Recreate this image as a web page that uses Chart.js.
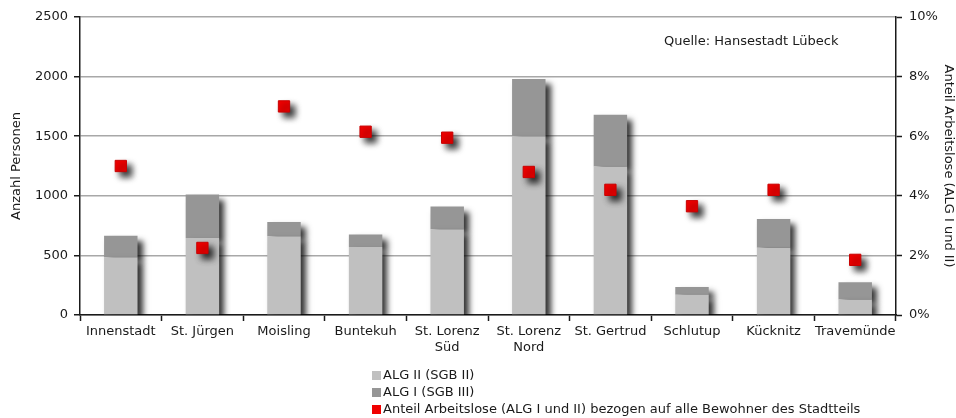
<!DOCTYPE html>
<html lang="de">
<head>
<meta charset="utf-8">
<title>Arbeitslose nach Stadtteilen – Lübeck</title>
<script src="https://cdn.jsdelivr.net/npm/chart.js@4"></script>
<style>
  body { margin: 0; background: #fff; }
  #wrap { position: relative; width: 956px; height: 418px; }
  #legend {
    position: absolute; left: 372px; top: 366px;
    font: 13px 'DejaVu Sans', sans-serif; color: #1a1a1a;
  }
  #legend div { height: 17px; line-height: 17px; white-space: nowrap; }
  #legend span.box {
    display: inline-block; width: 9px; height: 9px; margin-right: 2px; vertical-align: -0.5px;
  }
</style>
</head>
<body>
<div id="wrap">
  <canvas id="chart" width="956" height="418"></canvas>
  <div id="legend"></div>
</div>
<script>
// Stadtteile (x axis)
const categories = [
  'Innenstadt', 'St. Jürgen', 'Moisling', 'Buntekuh', ['St. Lorenz', 'Süd'],
  ['St. Lorenz', 'Nord'], 'St. Gertrud', 'Schlutup', 'Kücknitz', 'Travemünde'
];

// Anzahl Personen
const alg2 = [485, 645, 660, 570, 720, 1500, 1245, 170, 565, 130];
const alg1 = [180, 365, 120, 105, 190, 480, 435, 65, 240, 145];

// Anteil Arbeitslose in %
const anteil = [5.0, 2.25, 7.0, 6.15, 5.95, 4.8, 4.2, 3.65, 4.2, 1.85];

const FONT = { family: "'DejaVu Sans', sans-serif", size: 13 };
const INK = '#1a1a1a';

// soft drop shadow behind bars and markers
const shadowPlugin = {
  id: 'shadow',
  beforeDatasetDraw(chart) {
    const ctx = chart.ctx;
    ctx.save();
    ctx.shadowColor = 'rgba(0,0,0,0.8)';
    ctx.shadowBlur = 6;
    ctx.shadowOffsetX = 5;
    ctx.shadowOffsetY = 5;
  },
  afterDatasetDraw(chart) {
    chart.ctx.restore();
  },
};

// source note inside the plot
const sourcePlugin = {
  id: 'source',
  afterDraw(chart) {
    const ctx = chart.ctx;
    ctx.save();
    ctx.font = "13px 'DejaVu Sans', sans-serif";
    ctx.fillStyle = INK;
    ctx.textBaseline = 'middle';
    ctx.fillText('Quelle: Hansestadt Lübeck', 664, 42);
    ctx.restore();
  },
};

const chart = new Chart(document.getElementById('chart'), {
  type: 'bar',
  data: {
    labels: categories,
    datasets: [
      {
        label: 'ALG II (SGB II)',
        data: alg2,
        backgroundColor: '#c0c0c0',
        yAxisID: 'y',
        order: 1,
        barPercentage: 0.41,
        categoryPercentage: 1,
      },
      {
        label: 'ALG I (SGB III)',
        data: alg1,
        backgroundColor: '#969696',
        yAxisID: 'y',
        order: 1,
        barPercentage: 0.41,
        categoryPercentage: 1,
      },
      {
        type: 'line',
        label: 'Anteil Arbeitslose (ALG I und II) bezogen auf alle Bewohner des Stadtteils',
        data: anteil,
        yAxisID: 'y1',
        order: 0,
        showLine: false,
        pointStyle: 'rect',
        pointRadius: 8,
        pointBackgroundColor: '#f00000',
        pointBorderColor: '#c80000',
        pointBorderWidth: 1,
        backgroundColor: '#f00000',
        borderColor: '#f00000',
      },
    ],
  },
  options: {
    responsive: false,
    animation: false,
    events: [],
    layout: { padding: { top: 17, left: 0, right: 0, bottom: 0 } },
    plugins: {
      legend: { display: false },
      tooltip: { enabled: false },
    },
    scales: {
      x: {
        stacked: true,
        grid: { drawOnChartArea: false, drawTicks: true, tickLength: 6, tickColor: INK, tickWidth: 1.5, offset: true },
        border: { color: INK, width: 1.5 },
        ticks: { color: INK, font: FONT, padding: 3, maxRotation: 0, autoSkip: false },
        afterFit(s) { s.height = 103; },
      },
      y: {
        stacked: true,
        min: 0,
        max: 2500,
        ticks: { stepSize: 500, color: INK, font: FONT, padding: 6, callback: v => String(v) },
        grid: { color: '#a8a8a8', lineWidth: 1.5, tickColor: INK, tickLength: 6, tickWidth: 1.5 },
        border: { color: INK, width: 1.5 },
        title: { display: true, text: 'Anzahl Personen', color: INK, font: FONT, padding: { top: 9, bottom: 0 } },
        afterFit(s) { s.width = 80; },
      },
      y1: {
        position: 'right',
        min: 0,
        max: 10,
        ticks: { stepSize: 2, color: INK, font: FONT, padding: 7, callback: v => v + '%' },
        grid: { drawOnChartArea: false, tickColor: INK, tickLength: 6, tickWidth: 1.5 },
        border: { color: INK, width: 1.5 },
        title: { display: true, text: 'Anteil Arbeitslose (ALG I und II)', color: INK, font: FONT, padding: { top: 0, bottom: 0 } },
        afterFit(s) { s.width = 60; },
      },
    },
  },
  plugins: [shadowPlugin, sourcePlugin],
});

// vertical legend below the plot, built from the chart's own legend items
const legendEl = document.getElementById('legend');
const items = Chart.defaults.plugins.legend.labels.generateLabels(chart)
  .sort((a, b) => a.datasetIndex - b.datasetIndex);
items.forEach(item => {
  const row = document.createElement('div');
  const box = document.createElement('span');
  box.className = 'box';
  box.style.background = item.fillStyle;
  row.appendChild(box);
  row.appendChild(document.createTextNode(item.text));
  legendEl.appendChild(row);
});
</script>
</body>
</html>
